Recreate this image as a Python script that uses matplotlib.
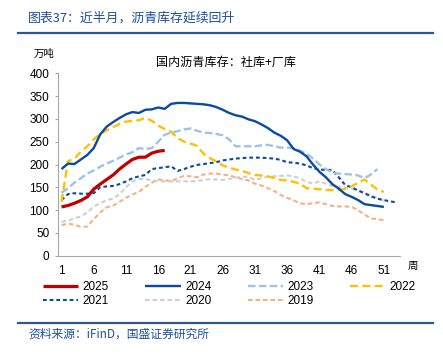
'''
    Inventario nacional de asfalto (social + fábrica), por semana y año
'''

import matplotlib
matplotlib.use('Agg')
import matplotlib.pyplot as plt
from matplotlib.lines import Line2D

plt.rcParams['font.family'] = ['Liberation Sans', 'Noto Sans CJK SC', 'DejaVu Sans']

W, H = 443, 354

# datos (万吨)
inv_2025 = [107, 110, 115, 121, 129, 146, 157, 167, 177, 190, 201, 211, 216, 216, 225, 229, 231]
inv_2024 = [190, 202, 201, 211, 221, 236, 266, 283, 293, 302, 310, 315, 313, 320, 321, 325, 322,
            333, 335, 335, 334, 333, 332, 330, 326, 320, 313, 308, 305, 299, 295, 288, 280, 270,
            263, 253, 234, 228, 218, 200, 184, 172, 157, 147, 135, 129, 122, 113, 111, 109, 107]
inv_2023 = [138, 148, 160, 170, 180, 187, 195, 202, 208, 215, 222, 227, 236, 234, 236, 250, 265,
            270, 273, 277, 279, 274, 270, 269, 267, 264, 255, 240, 240, 240, 240, 242, 243, 240,
            237, 237, 236, 230, 224, 213, 200, 190, 182, 180, 179, 178, 176, 170, 178, 190]
inv_2022 = [118, 207, 213, 228, 240, 255, 267, 275, 282, 289, 294, 296, 297, 302, 296, 285, 278,
            272, 258, 250, 246, 241, 224, 214, 207, 198, 193, 189, 186, 181, 177, 176, 174, 170,
            166, 165, 162, 158, 148, 147, 146, 144, 144, 144, 147, 152, 160, 167, 156, 145, 140]
inv_2021 = [122, 135, 137, 136, 136, 137, 150, 152, 153, 157, 163, 170, 174, 177, 190, 192, 194,
            196, 186, 190, 195, 199, 201, 203, 205, 209, 211, 213, 214, 215, 215, 215, 214, 213,
            210, 205, 204, 202, 198, 192, 189, 188, 188, 172, 155, 150, 143, 137, 130, 125, 122,
            119, 117]
inv_2020 = [74, 77, 82, 86, 95, 108, 115, 122, 125, 135, 150, 163, 168, 168, 165, 164, 163, 163,
            163, 163, 163, 164, 166, 168, 167, 166, 168, 171, 173, 173, 166, 170, 173, 174, 175,
            176, 174, 170, 162, 158, 163, 158, 153, 151, 149, 147, 143, 138, 133, 127, 120]
inv_2019 = [67, 70, 68, 63, 64, 80, 95, 106, 110, 118, 127, 134, 140, 151, 160, 167, 166, 163,
            170, 175, 174, 172, 178, 180, 180, 178, 176, 172, 168, 165, 158, 154, 148, 142, 133,
            127, 121, 115, 113, 115, 117, 113, 109, 108, 108, 107, 100, 90, 82, 80, 78]

x_ticks = [1, 6, 11, 16, 21, 26, 31, 36, 41, 46, 51]
y_ticks = [0, 50, 100, 150, 200, 250, 300, 350, 400]

# (etiqueta, datos, color, ancho, guiones)
series = [
    ('2025', inv_2025, '#C00000', 2.3, None),
    ('2024', inv_2024, '#0B4A9E', 1.7, None),
    ('2023', inv_2023, '#9DC3E6', 1.7, (3.2, 1.4)),
    ('2022', inv_2022, '#FFC000', 1.7, (3.4, 1.8)),
    ('2021', inv_2021, '#0B4A9E', 1.5, (1.8, 1.4)),
    ('2020', inv_2020, '#CFCFCF', 1.5, (2.2, 1.4)),
    ('2019', inv_2019, '#F4B183', 1.5, (2.2, 1.4)),
]


def fx(px):
    return px / W


def fy(py):
    return 1 - py / H


fig = plt.figure(figsize=(W / 100, H / 100), dpi=100)
ax = fig.add_axes([fx(58.3), fy(255.7), fx(400) - fx(58.3), fy(73.3) - fy(255.7)])

handles = {}
# dibujo de atrás hacia adelante para que 2025 quede arriba
for label, vals, color, lw, dashes in reversed(series):
    weeks = list(range(1, len(vals) + 1))
    if dashes is None:
        line, = ax.plot(weeks, vals, color=color, lw=lw, solid_capstyle='butt')
    else:
        line, = ax.plot(weeks, vals, color=color, lw=lw, dashes=dashes)
    handles[label] = line

ax.set_xlim(0.5, 53.5)
ax.set_ylim(0, 400)
ax.set_xticks(x_ticks)
ax.set_yticks(y_ticks)
ax.tick_params(axis='x', length=0, pad=7, labelsize=8.5)
ax.tick_params(axis='y', length=2.5, width=0.8, color='#A6A6A6', pad=4, labelsize=8.5, direction='out')
for side in ['top', 'right']:
    ax.spines[side].set_visible(False)
for side in ['left', 'bottom']:
    ax.spines[side].set_color('#A6A6A6')
    ax.spines[side].set_linewidth(0.8)

# orden para que la leyenda se lea por filas
order = ['2025', '2021', '2024', '2020', '2023', '2019', '2022']
fig.legend([handles[k] for k in order], order, loc='upper left',
           bbox_to_anchor=(fx(43), fy(281)), ncol=4, frameon=False, fontsize=8.5,
           handlelength=3.0, handletextpad=0.35, columnspacing=3.1, labelspacing=0.15,
           borderpad=0, borderaxespad=0)

blue = '#2F5597'
fig.add_artist(Line2D([fx(18), fx(433)], [fy(33), fy(33)], color=blue, lw=1.6))
fig.add_artist(Line2D([fx(18), fx(433)], [fy(323), fy(323)], color=blue, lw=1.6))

cjk = ['Noto Sans CJK SC', 'DejaVu Sans']
fig.text(fx(28), fy(18), '图表37：近半月，沥青库存延续回升', color='#1F4E9A', fontsize=9.3,
         va='center', ha='left', family=cjk)
fig.text(fx(28), fy(334), '资料来源：iFinD，国盛证券研究所', color='#1F4E9A', fontsize=8.5,
         va='center', ha='left', family=cjk)
fig.text(fx(44), fy(54), '万吨', fontsize=7.5, va='center', ha='center', family=cjk)
fig.text(fx(226), fy(62), '国内沥青库存：社库+厂库', fontsize=8.7, va='center', ha='center',
         family=cjk)
fig.text(fx(413), fy(266), '周', fontsize=7.5, va='center', ha='center', family=cjk)

fig.savefig('out.png', dpi=100)
